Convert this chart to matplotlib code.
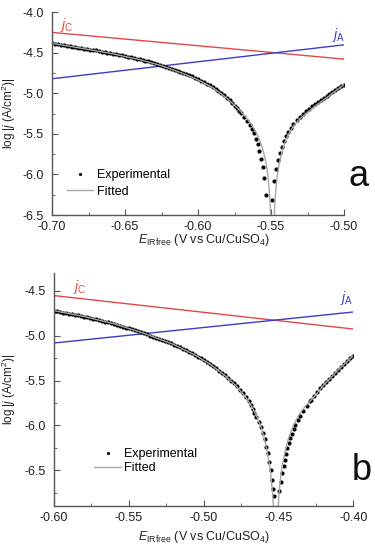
import matplotlib
matplotlib.use('Agg')
import matplotlib.pyplot as plt
from matplotlib.ticker import MultipleLocator

plt.rcParams['font.family'] = 'Liberation Sans'
plt.rcParams['mathtext.fontset'] = 'custom'
plt.rcParams['mathtext.rm'] = 'Liberation Sans'
plt.rcParams['mathtext.it'] = 'Liberation Sans:italic'
plt.rcParams['font.size'] = 9

# ---- panel a data ----
exp_a_E = [-0.700, -0.698, -0.696, -0.694, -0.692, -0.690, -0.688, -0.686, -0.684, -0.682,
           -0.680, -0.678, -0.676, -0.674, -0.672, -0.670, -0.668, -0.666, -0.664, -0.662,
           -0.660, -0.658, -0.656, -0.654, -0.652, -0.650, -0.648, -0.646, -0.644, -0.642,
           -0.640, -0.638, -0.636, -0.634, -0.632, -0.630, -0.628, -0.626, -0.624, -0.622,
           -0.620, -0.618, -0.616, -0.614, -0.612, -0.610, -0.608, -0.606, -0.604, -0.602,
           -0.600, -0.598, -0.596, -0.594, -0.592, -0.590, -0.588, -0.586, -0.584, -0.582,
           -0.580, -0.578,
           -0.5766, -0.5749, -0.5732, -0.5718, -0.5704, -0.5682, -0.5663, -0.5645, -0.5629,
           -0.5615, -0.5601, -0.5590, -0.5579, -0.5567, -0.5556, -0.5546, -0.5536,
           -0.5495, -0.5479, -0.5466, -0.5452, -0.5440, -0.5425, -0.5411, -0.5397, -0.5382,
           -0.5365, -0.5347, -0.5324,
           -0.530, -0.528, -0.526, -0.524, -0.522, -0.520, -0.518, -0.516, -0.514, -0.512,
           -0.510, -0.508, -0.506, -0.504, -0.502, -0.500]
exp_a_logj = [-4.385, -4.391, -4.396, -4.402, -4.407, -4.413, -4.419, -4.425, -4.431, -4.437,
              -4.443, -4.449, -4.455, -4.461, -4.467, -4.473, -4.479, -4.486, -4.492, -4.499,
              -4.505, -4.512, -4.519, -4.526, -4.533, -4.540, -4.548, -4.556, -4.564, -4.572,
              -4.580, -4.589, -4.598, -4.608, -4.618, -4.628, -4.639, -4.650, -4.661, -4.673,
              -4.686, -4.699, -4.712, -4.725, -4.738, -4.751, -4.764, -4.778, -4.793, -4.809,
              -4.826, -4.844, -4.862, -4.881, -4.901, -4.922, -4.945, -4.970, -4.996, -5.024,
              -5.055, -5.088,
              -5.124, -5.155, -5.186, -5.213, -5.240, -5.289, -5.339, -5.388, -5.441,
              -5.494, -5.560, -5.629, -5.712, -5.807, -5.913, -6.048, -6.254,
              -6.315, -6.078, -5.933, -5.823, -5.733, -5.659, -5.589, -5.527, -5.474,
              -5.425, -5.379, -5.330,
              -5.287, -5.251, -5.219, -5.189, -5.161, -5.135, -5.108, -5.082, -5.057, -5.033,
              -5.010, -4.985, -4.961, -4.938, -4.915, -4.893]

fit_a_E = [-0.700, -0.680, -0.660, -0.640, -0.625, -0.610, -0.600, -0.590, -0.585, -0.580,
           -0.5760, -0.5735, -0.5705, -0.5675, -0.5650, -0.5625, -0.5600, -0.5580, -0.5560,
           -0.5545, -0.5530, -0.5520, -0.5512, -0.5505, -0.5502,
           -0.5478, -0.5475, -0.5468, -0.5458, -0.5447, -0.5432, -0.5415, -0.5395, -0.5370,
           -0.5340, -0.5300, -0.5250, -0.5200, -0.5150, -0.5100, -0.5050, -0.5000]
fit_a_logj = [-4.385, -4.445, -4.508, -4.585, -4.660, -4.758, -4.835, -4.930, -4.995, -5.065,
              -5.130, -5.175, -5.230, -5.290, -5.345, -5.410, -5.490, -5.570, -5.670,
              -5.770, -5.900, -6.030, -6.200, -6.400, -6.550,
              -6.550, -6.400, -6.200, -6.030, -5.900, -5.770, -5.660, -5.560, -5.470,
              -5.390, -5.310, -5.235, -5.160, -5.095, -5.030, -4.960, -4.893]

tafel_a_E = [-0.70, -0.50]
jc_a = [-4.250, -4.579]
ja_a = [-4.821, -4.403]

# ---- panel b data ----
exp_b_E = [-0.600, -0.598, -0.596, -0.594, -0.592, -0.590, -0.588, -0.586, -0.584, -0.582,
           -0.580, -0.578, -0.576, -0.574, -0.572, -0.570, -0.568, -0.566, -0.564, -0.562,
           -0.560, -0.558, -0.556, -0.554, -0.552, -0.550, -0.548, -0.546, -0.544, -0.542,
           -0.540, -0.538, -0.536, -0.534, -0.532, -0.530, -0.528, -0.526, -0.524, -0.522,
           -0.520, -0.518, -0.516, -0.514, -0.512, -0.510, -0.508, -0.506, -0.504, -0.502,
           -0.500, -0.498, -0.496, -0.494, -0.492, -0.490, -0.488, -0.486, -0.484, -0.482,
           -0.480, -0.478, -0.476, -0.474, -0.472, -0.470, -0.4685, -0.467, -0.466,
           -0.4649, -0.4633, -0.4617, -0.4604, -0.4593, -0.4582, -0.4571, -0.4560, -0.4551,
           -0.4544, -0.4537, -0.4532,
           -0.4493, -0.4482, -0.4473, -0.4465, -0.4457, -0.4448, -0.4440, -0.4430, -0.4421,
           -0.4410, -0.4399, -0.4386, -0.4371, -0.4355, -0.4334, -0.4311, -0.4288,
           -0.428, -0.426, -0.424, -0.422, -0.420, -0.418, -0.416, -0.414, -0.412, -0.410,
           -0.408, -0.406, -0.404, -0.402, -0.400]
exp_b_logj = [-4.723, -4.729, -4.735, -4.741, -4.747, -4.753, -4.760, -4.766, -4.773, -4.780,
              -4.787, -4.795, -4.802, -4.810, -4.818, -4.826, -4.834, -4.843, -4.851, -4.860,
              -4.869, -4.878, -4.888, -4.898, -4.908, -4.918, -4.929, -4.940, -4.951, -4.962,
              -4.974, -4.986, -4.998, -5.010, -5.022, -5.035, -5.047, -5.060, -5.073, -5.086,
              -5.100, -5.115, -5.130, -5.146, -5.162, -5.179, -5.196, -5.214, -5.233, -5.253,
              -5.274, -5.295, -5.317, -5.340, -5.364, -5.389, -5.415, -5.442, -5.470, -5.500,
              -5.531, -5.565, -5.601, -5.640, -5.683, -5.730, -5.770, -5.815, -5.860,
              -5.904, -5.960, -6.023, -6.090, -6.157, -6.240, -6.313, -6.407, -6.500,
              -6.612, -6.705, -6.790,
              -6.735, -6.631, -6.537, -6.455, -6.383, -6.316, -6.254, -6.198, -6.146,
              -6.092, -6.042, -5.992, -5.941, -5.891, -5.841, -5.785, -5.729,
              -5.712, -5.671, -5.626, -5.588, -5.551, -5.516, -5.480, -5.447, -5.413, -5.380,
              -5.348, -5.315, -5.282, -5.251, -5.222]

fit_b_E = [-0.600, -0.580, -0.560, -0.540, -0.520, -0.505, -0.495, -0.485, -0.478, -0.472,
           -0.468, -0.465, -0.462, -0.4595, -0.4575, -0.456, -0.4548, -0.4538, -0.4532,
           -0.4503, -0.4497, -0.4487, -0.4474, -0.4455, -0.4432, -0.4400, -0.4362, -0.4320,
           -0.4260, -0.4200, -0.4100, -0.4000]
fit_b_logj = [-4.720, -4.785, -4.866, -4.972, -5.098, -5.222, -5.326, -5.454, -5.565, -5.683,
              -5.785, -5.880, -6.000, -6.140, -6.290, -6.440, -6.600, -6.780, -6.950,
              -6.950, -6.780, -6.600, -6.440, -6.290, -6.140, -6.000, -5.880, -5.785,
              -5.680, -5.555, -5.380, -5.222]

tafel_b_E = [-0.60, -0.40]
jc_b = [-4.552, -4.925]
ja_b = [-5.081, -4.735]

red = '#e04848'
blue = '#3c3cc8'
axis_col = '#555555'


def style_axes(ax, xlim, ylim):
    ax.set_xlim(*xlim)
    ax.set_ylim(*ylim)
    ax.xaxis.set_major_locator(MultipleLocator(0.05))
    ax.xaxis.set_minor_locator(MultipleLocator(0.025))
    ax.yaxis.set_major_locator(MultipleLocator(0.5))
    ax.yaxis.set_minor_locator(MultipleLocator(0.25))
    ax.xaxis.set_major_formatter(plt.FuncFormatter(lambda v, p: f'{v:.2f}'))
    ax.yaxis.set_major_formatter(plt.FuncFormatter(lambda v, p: f'{v:.1f}'))
    for s in ['top', 'right']:
        ax.spines[s].set_visible(False)
    for s in ['left', 'bottom']:
        ax.spines[s].set_color(axis_col)
        ax.spines[s].set_linewidth(1.0)
    ax.tick_params(which='both', direction='in', color=axis_col, labelcolor='#222222',
                   labelsize=9)
    ax.tick_params(which='major', length=4)
    ax.tick_params(axis='x', which='major', pad=4.5)
    ax.tick_params(axis='y', which='major', pad=6)
    ax.tick_params(which='minor', length=2)
    ax.set_xlabel(r'$E_{\mathrm{IRfree}}$ (V vs Cu/CuSO$_4$)', fontsize=9, color='#222222')
    ax.set_ylabel(r'log |$j$ (A/cm$^2$)|', fontsize=8.5, color='#222222')


fig = plt.figure(figsize=(3.75, 5.5), dpi=100)

# panel a
ax1 = fig.add_axes([0.1387, 0.609, 0.7787, 0.369])
ax1.plot(tafel_a_E, jc_a, color=red, lw=1.0)
ax1.plot(tafel_a_E, ja_a, color=blue, lw=1.0)
ax1.plot(exp_a_E, exp_a_logj, 'o', color='black', ms=3.0, mec='none', label='Experimental')
ax1.plot(fit_a_E, fit_a_logj, color='#a8a8a8', lw=1.0, label='Fitted')
style_axes(ax1, (-0.70, -0.50), (-6.5, -4.0))
ax1.text(-0.690, -4.16, r'$j_\mathrm{C}$', color=red, fontsize=10, ha='center', va='center')
ax1.text(-0.504, -4.28, r'$j_\mathrm{A}$', color=blue, fontsize=10, ha='center', va='center')
ax1.legend(loc='upper left', bbox_to_anchor=(0.05, 0.225), frameon=False, fontsize=9,
           borderaxespad=0, borderpad=0, handlelength=2.1, handletextpad=0.3,
           labelspacing=0.35, markerscale=0.75)
ax1.xaxis.set_label_coords(0.52, -0.085)
ax1.yaxis.set_label_coords(-0.116, 0.5)

# panel b
ax2 = fig.add_axes([0.144, 0.080, 0.798, 0.4236])
ax2.plot(tafel_b_E, jc_b, color=red, lw=1.0)
ax2.plot(tafel_b_E, ja_b, color=blue, lw=1.0)
ax2.plot(exp_b_E, exp_b_logj, 'o', color='black', ms=3.0, mec='none', label='Experimental')
ax2.plot(fit_b_E, fit_b_logj, color='#a8a8a8', lw=1.0, label='Fitted')
style_axes(ax2, (-0.60, -0.40), (-6.9, -4.3))
ax2.text(-0.5826, -4.455, r'$j_\mathrm{C}$', color=red, fontsize=10, ha='center', va='center')
ax2.text(-0.4042, -4.58, r'$j_\mathrm{A}$', color=blue, fontsize=10, ha='center', va='center')
ax2.legend(loc='upper left', bbox_to_anchor=(0.135, 0.249), frameon=False, fontsize=9,
           borderaxespad=0, borderpad=0, handlelength=2.1, handletextpad=0.3,
           labelspacing=0.2, markerscale=0.75)
ax2.xaxis.set_label_coords(0.5, -0.1)
ax2.yaxis.set_label_coords(-0.120, 0.5)

fig.text(0.955, 0.661, 'a', fontsize=26, ha='center', va='baseline', color='#111111')
fig.text(0.965, 0.127, 'b', fontsize=26, ha='center', va='baseline', color='#111111')

fig.savefig('out.png', dpi=100)
